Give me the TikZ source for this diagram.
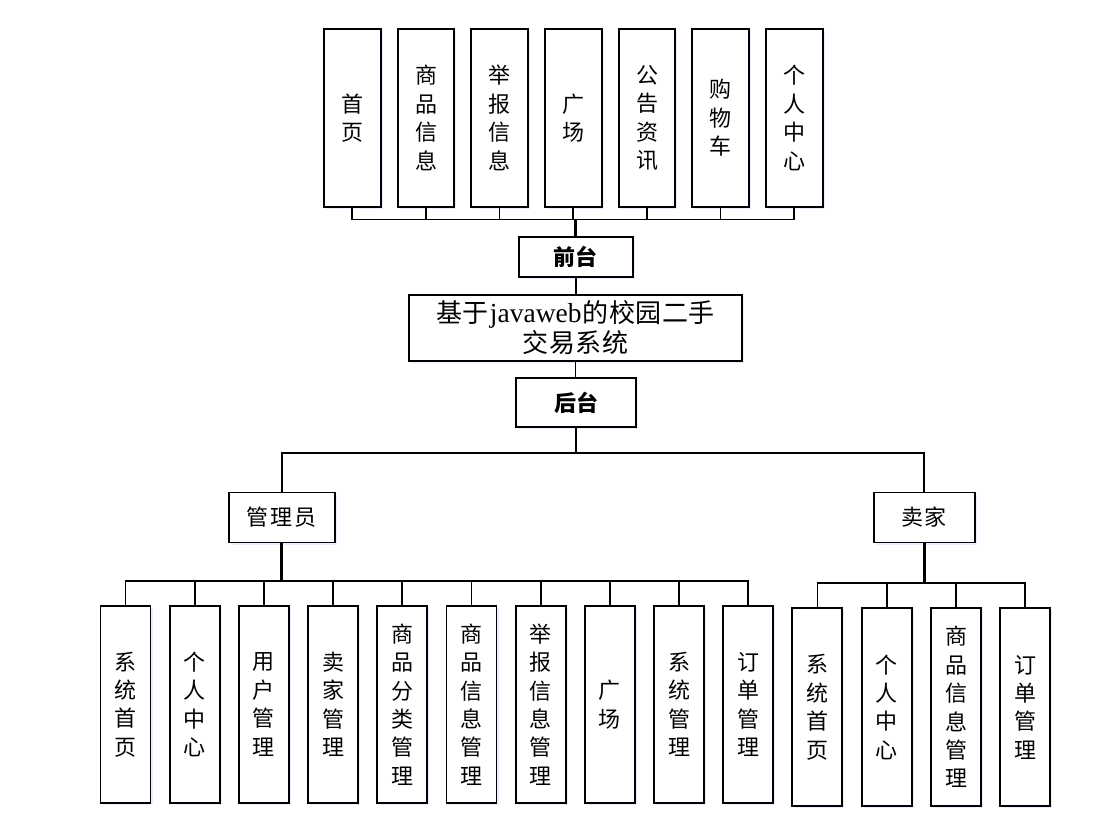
\documentclass[tikz,border=0pt]{standalone}
\usepackage{fontspec}
\newfontfamily\cjk{Noto Sans CJK SC}
\newfontfamily\lat{Liberation Serif}
\usetikzlibrary{shadows}
\tikzset{
  box/.style={draw, line width=1.9pt, fill=white, inner sep=0pt,
    drop shadow={shadow xshift=2pt, shadow yshift=-2pt, fill=blue!12, opacity=0.6}},
  vtop/.style={box, minimum width=56.5pt, minimum height=177.5pt, align=center,
    font=\cjk\fontsize{22}{28.5}\selectfont},
  vbot/.style={box, minimum width=50pt, minimum height=197.6pt, align=center,
    font=\cjk\fontsize{22}{28.4}\selectfont},
  hbox/.style={box, align=center, font=\cjk\fontsize{22}{24}\selectfont},
  bbox/.style={box, align=center, font=\cjk\bfseries\fontsize{22}{24}\selectfont},
  conn/.style={line width=1.7pt},
  thickconn/.style={line width=3pt},
}
\begin{document}
\begin{tikzpicture}[x=1pt,y=-1pt]
\useasboundingbox (0,0) rectangle (1115,834);

% top level boxes
\node[vtop] (t1) at (352.3,118) {首\\页};
\node[vtop] (t2) at (426.0,118) {商\\品\\信\\息};
\node[vtop] (t3) at (499.6,118) {举\\报\\信\\息};
\node[vtop] (t4) at (573.3,118) {广\\场};
\node[vtop] (t5) at (647.0,118) {公\\告\\资\\讯};
\node[vtop] (t6) at (720.6,118) {购\\物\\车};
\node[vtop] (t7) at (794.3,118) {个\\人\\中\\心};

\node[bbox, minimum width=113.7pt, minimum height=40.3pt] (qt) at (575.8,256.8) {前台};
\node[hbox, minimum width=333pt, minimum height=66pt, font=\cjk\fontsize{26}{30}\selectfont] (main) at (575.5,328) {基\hspace{0.5pt}于\hspace{1pt}{\lat\fontsize{27.5}{30}\selectfont javaweb}\hspace{1pt}的\hspace{0.5pt}校\hspace{0.5pt}园\hspace{0.5pt}二\hspace{0.5pt}手\\交\hspace{0.5pt}易\hspace{0.5pt}系\hspace{0.5pt}统};
\node[bbox, minimum width=120pt, minimum height=49pt] (ht) at (576,402.5) {后台};

\node[hbox, minimum width=106pt, minimum height=50pt] (gly) at (281.8,517.5) {管\hspace{2pt}理\hspace{2pt}员};
\node[hbox, minimum width=101pt, minimum height=50pt] (mj) at (924.3,517.5) {卖\hspace{1pt}家};

% admin boxes
\node[vbot] (a1) at (125.5,704.5) {系\\统\\首\\页};
\node[vbot] (a2) at (194.7,704.5) {个\\人\\中\\心};
\node[vbot] (a3) at (263.9,704.5) {用\\户\\管\\理};
\node[vbot] (a4) at (333.1,704.5) {卖\\家\\管\\理};
\node[vbot] (a5) at (402.3,704.5) {商\\品\\分\\类\\管\\理};
\node[vbot] (a6) at (471.5,704.5) {商\\品\\信\\息\\管\\理};
\node[vbot] (a7) at (540.7,704.5) {举\\报\\信\\息\\管\\理};
\node[vbot] (a8) at (609.9,704.5) {广\\场};
\node[vbot] (a9) at (679.1,704.5) {系\\统\\管\\理};
\node[vbot] (a10) at (748.3,704.5) {订\\单\\管\\理};

% seller boxes
\node[vbot] (s1) at (817.4,707.2) {系\\统\\首\\页};
\node[vbot] (s2) at (886.8,707.2) {个\\人\\中\\心};
\node[vbot] (s3) at (956.0,707.2) {商\\品\\信\\息\\管\\理};
\node[vbot] (s4) at (1025.2,707.2) {订\\单\\管\\理};

% bar coordinates
\coordinate (topbar) at (575.8,219.5);
\coordinate (midbar) at (576,453);
\coordinate (admbar) at (281.8,581);
\coordinate (selbar) at (924.3,583.3);

% top tree
\draw[conn] (t1.south) -- (t1.south |- topbar) -- (t7.south |- topbar) -- (t7.south);
\foreach \i in {2,...,6} { \draw[conn] (t\i.south) -- (t\i.south |- topbar); }
\draw[thickconn] (qt.north) -- (topbar);
\draw[conn] (qt.south) -- (qt.south |- main.north);
\draw[conn] (main.south) -- (main.south |- ht.north);

% middle tree
\draw[conn] (ht.south) -- (midbar);
\draw[conn] (gly.north) -- (gly.north |- midbar) -- (mj.north |- midbar) -- (mj.north);

% admin tree
\draw[thickconn] (gly.south) -- (admbar);
\draw[conn] (a1.north) -- (a1.north |- admbar) -- (a10.north |- admbar) -- (a10.north);
\foreach \i in {2,...,9} { \draw[conn] (a\i.north) -- (a\i.north |- admbar); }

% seller tree
\draw[thickconn] (mj.south) -- (selbar);
\draw[conn] (s1.north) -- (s1.north |- selbar) -- (s4.north |- selbar) -- (s4.north);
\foreach \i in {2,3} { \draw[conn] (s\i.north) -- (s\i.north |- selbar); }
\end{tikzpicture}
\end{document}
